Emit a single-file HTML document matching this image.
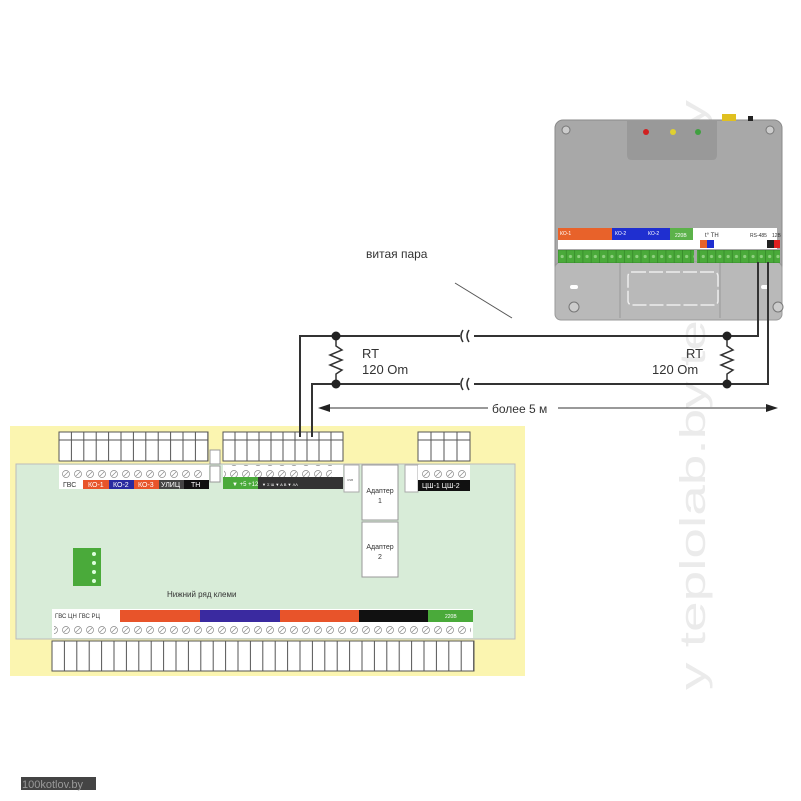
<!DOCTYPE html>
<html><head><meta charset="utf-8"><style>
html,body{margin:0;padding:0;background:#fff;}
svg{display:block;font-family:"Liberation Sans","Noto Sans CJK SC",sans-serif;}
</style></head><body>
<svg width="801" height="801" viewBox="0 0 801 801" xmlns="http://www.w3.org/2000/svg">
<defs>
<pattern id="cell" x="59" y="0" width="12.4" height="40" patternUnits="userSpaceOnUse"><rect x="0" y="0" width="12.4" height="40" fill="#fff" stroke="#555" stroke-width="1"/></pattern>
<pattern id="cellm" x="223" y="0" width="12" height="40" patternUnits="userSpaceOnUse"><rect x="0" y="0" width="12" height="40" fill="#fff" stroke="#555" stroke-width="1"/></pattern>
<pattern id="cellb" x="52" y="0" width="12.4" height="40" patternUnits="userSpaceOnUse"><rect x="0" y="0" width="12.4" height="40" fill="#fff" stroke="#555" stroke-width="1"/></pattern>
<pattern id="cellr" x="418" y="0" width="13" height="40" patternUnits="userSpaceOnUse"><rect x="0" y="0" width="13" height="40" fill="#fff" stroke="#555" stroke-width="1"/></pattern>
<pattern id="screw" x="0" y="0" width="12" height="12" patternUnits="userSpaceOnUse"><circle cx="6" cy="6" r="3.5" fill="#fff" stroke="#888" stroke-width="0.7"/><line x1="4" y1="8" x2="8" y2="4" stroke="#888" stroke-width="0.6"/></pattern>
<pattern id="gterm" x="558" y="250" width="8.3" height="13" patternUnits="userSpaceOnUse"><rect x="0" y="0" width="8.3" height="13" fill="#4aaa3a" stroke="#2f7f25" stroke-width="0.6"/><circle cx="4.15" cy="6.5" r="1.6" fill="#8fd07f"/></pattern>
</defs>

<!-- watermark -->
<text transform="translate(705,690) rotate(-90)" font-size="36" fill="#ebebeb" textLength="590" lengthAdjust="spacingAndGlyphs">y teplolab.by  teplolab.by</text>

<!-- device -->
<rect x="555" y="120" width="227" height="200" rx="8" fill="#a8a8a8" stroke="#8a8a8a"/>
<rect x="555" y="262" width="227" height="58" rx="6" fill="#b9b9b9" stroke="#999"/>
<line x1="620" y1="262" x2="620" y2="318" stroke="#999"/>
<line x1="720" y1="262" x2="720" y2="318" stroke="#999"/>
<rect x="628" y="272" width="90" height="33" rx="4" fill="none" stroke="#eee" stroke-width="1.5" stroke-dasharray="14 3"/>
<path d="M627 120 H717 V155 Q717 160 712 160 H632 Q627 160 627 155 Z" fill="#999"/>
<rect x="722" y="114" width="14" height="7" fill="#e0c020"/>
<rect x="748" y="116" width="5" height="5" fill="#222"/>
<circle cx="646" cy="132" r="3" fill="#d02020"/>
<circle cx="673" cy="132" r="3" fill="#e0d030"/>
<circle cx="698" cy="132" r="3" fill="#40a040"/>
<circle cx="566" cy="130" r="4" fill="#ccc" stroke="#777"/>
<circle cx="770" cy="130" r="4" fill="#ccc" stroke="#777"/>
<circle cx="574" cy="307" r="5" fill="#ccc" stroke="#777"/>
<circle cx="778" cy="307" r="5" fill="#ccc" stroke="#777"/>
<rect x="570" y="285" width="8" height="4" rx="2" fill="#fff"/>
<rect x="761" y="285" width="8" height="4" rx="2" fill="#fff"/>
<rect x="558" y="228" width="219" height="21" fill="#fff"/>
<rect x="558" y="228" width="32" height="12" fill="#e8622a"/>
<rect x="590" y="228" width="22" height="12" fill="#e8622a"/>
<rect x="612" y="228" width="33" height="12" fill="#1f2fd0"/>
<rect x="645" y="228" width="25" height="12" fill="#1f2fd0"/>
<rect x="670" y="228" width="23" height="12" fill="#5cb24a"/>
<text x="560" y="235" font-size="5" fill="#fff">КО-1</text>
<text x="615" y="235" font-size="5" fill="#fff">КО-2</text>
<text x="648" y="235" font-size="5" fill="#fff">КО-2</text>
<text x="675" y="237" font-size="5" fill="#fff">220В</text>
<text x="705" y="237" font-size="6" fill="#333">t° ТН</text>
<text x="750" y="237" font-size="5" fill="#333">RS-485</text>
<text x="772" y="237" font-size="5" fill="#333">12В</text>
<rect x="700" y="240" width="7" height="8" fill="#e8622a"/>
<rect x="707" y="240" width="7" height="8" fill="#1f2fd0"/>
<rect x="774" y="240" width="6" height="8" fill="#e02020"/>
<rect x="767" y="240" width="7" height="8" fill="#222"/>
<rect x="558" y="250" width="136" height="13" fill="url(#gterm)"/>
<rect x="697" y="250" width="83" height="13" fill="url(#gterm)"/>

<!-- yellow board -->
<rect x="10" y="426" width="515" height="250" fill="#fbf5b0"/>
<rect x="16" y="464" width="499" height="175" fill="#d8ecd8" stroke="#bbb"/>
<rect x="59" y="432" width="149" height="29" fill="url(#cell)" stroke="#555"/>
<rect x="223" y="432" width="120" height="29" fill="url(#cellm)" stroke="#555"/>
<rect x="418" y="432" width="52" height="29" fill="url(#cellr)" stroke="#555"/>
<rect x="52" y="641" width="422" height="30" fill="url(#cellb)" stroke="#555"/>
<rect x="210" y="450" width="10" height="14" fill="#fff" stroke="#999"/>
<rect x="210" y="466" width="10" height="16" fill="#fff" stroke="#999"/>

<!-- top labels left -->
<rect x="59" y="465" width="150" height="24" fill="#fff"/>
<rect x="60" y="466" width="144" height="12" fill="url(#screw)"/>
<rect x="83" y="480" width="26" height="9" fill="#e8542a"/>
<rect x="109" y="480" width="25" height="9" fill="#2a2aa0"/>
<rect x="134" y="480" width="25" height="9" fill="#e8542a"/>
<rect x="159" y="480" width="25" height="9" fill="#444"/>
<rect x="184" y="480" width="25" height="9" fill="#111"/>
<g font-size="7" fill="#fff"><text x="63" y="487" fill="#333">ГВС</text><text x="88" y="487">КО-1</text><text x="113" y="487">КО-2</text><text x="138" y="487">КО-3</text><text x="161" y="487">УЛИЦ</text><text x="191" y="487">ТН</text></g>
<!-- middle labels -->
<rect x="223" y="465" width="120" height="12" fill="#fff"/>
<rect x="224" y="465" width="108" height="12" fill="url(#screw)"/>
<rect x="223" y="477" width="35" height="12" fill="#4aaa3a"/>
<rect x="258" y="477" width="85" height="12" fill="#333"/>
<text x="232" y="486" font-size="6" fill="#fff">▼ +5 +12</text>
<text x="262" y="486" font-size="4" fill="#fff">▼ Ʃ Ɯ  ▼ A B  ▼ ɅɅ</text>
<rect x="344" y="465" width="15" height="27" fill="#fff" stroke="#aaa"/>
<text x="347" y="481" font-size="3" fill="#555">USB</text>
<rect x="362" y="465" width="36" height="55" fill="#fff" stroke="#999"/>
<rect x="362" y="522" width="36" height="55" fill="#fff" stroke="#999"/>
<text x="380" y="493" font-size="7" fill="#333" text-anchor="middle">Адаптер</text><text x="380" y="503" font-size="7" fill="#333" text-anchor="middle">1</text>
<text x="380" y="549" font-size="7" fill="#333" text-anchor="middle">Адаптер</text><text x="380" y="559" font-size="7" fill="#333" text-anchor="middle">2</text>
<rect x="405" y="465" width="13" height="27" fill="#fff" stroke="#aaa"/>
<rect x="418" y="465" width="52" height="15" fill="#fff"/>
<rect x="420" y="466" width="48" height="12" fill="url(#screw)"/>
<rect x="418" y="480" width="52" height="11" fill="#111"/>
<text x="422" y="488" font-size="7" fill="#fff">ЦШ-1  ЦШ-2</text>
<!-- green small block -->
<rect x="73" y="548" width="28" height="38" fill="#4aaa3a"/>
<g fill="#dfd"><circle cx="94" cy="554" r="2"/><circle cx="94" cy="563" r="2"/><circle cx="94" cy="572" r="2"/><circle cx="94" cy="581" r="2"/></g>
<text x="167" y="597" font-size="8" fill="#333">Нижний ряд клеми</text>
<!-- bottom labels -->
<rect x="52" y="609" width="421" height="29" fill="#fff"/>
<rect x="120" y="610" width="45" height="12" fill="#e8542a"/>
<rect x="165" y="610" width="35" height="12" fill="#e8542a"/>
<rect x="200" y="610" width="47" height="12" fill="#3a2aa0"/>
<rect x="247" y="610" width="33" height="12" fill="#3a2aa0"/>
<rect x="280" y="610" width="45" height="12" fill="#e8542a"/>
<rect x="325" y="610" width="34" height="12" fill="#e8542a"/>
<rect x="359" y="610" width="69" height="12" fill="#111"/>
<rect x="428" y="610" width="45" height="12" fill="#4aaa3a"/>
<text x="55" y="618" font-size="6" fill="#333">ГВС ЦН  ГВС РЦ</text>
<text x="445" y="618" font-size="5" fill="#fff">220В</text>
<rect x="54" y="624" width="417" height="12" fill="url(#screw)"/>

<!-- wiring -->
<g stroke="#333" stroke-width="2" fill="none">
<path d="M300 437 V336 H758 V262"/>
<path d="M312 437 V384 H768 V262"/>
</g>
<g fill="#fff"><rect x="460" y="328" width="14" height="16"/><rect x="460" y="376" width="14" height="16"/></g>
<g stroke="#333" stroke-width="1.5" fill="none">
<path d="M463 330 q-4 6 0 12"/><path d="M469 330 q-4 6 0 12"/>
<path d="M463 378 q-4 6 0 12"/><path d="M469 378 q-4 6 0 12"/>
<path d="M336 336 V346 l6 4 -12 5 12 5 -12 5 12 5 -6 4 V384"/>
<path d="M727 336 V346 l6 4 -12 5 12 5 -12 5 12 5 -6 4 V384"/>
</g>
<g fill="#222"><circle cx="336" cy="336" r="4.5"/><circle cx="336" cy="384" r="4.5"/><circle cx="727" cy="336" r="4.5"/><circle cx="727" cy="384" r="4.5"/></g>
<text x="362" y="358" font-size="13" fill="#333">RT</text><text x="362" y="374" font-size="13" fill="#333">120 Om</text>
<text x="686" y="358" font-size="13" fill="#333">RT</text><text x="652" y="374" font-size="13" fill="#333">120 Om</text>
<line x1="325" y1="408" x2="770" y2="408" stroke="#333" stroke-width="1"/>
<path d="M318 408 l12 -4 v8 z M778 408 l-12 -4 v8 z" fill="#222"/>
<rect x="488" y="400" width="70" height="16" fill="#fff"/>
<text x="492" y="413" font-size="12" fill="#333">более 5 м</text>
<text x="366" y="258" font-size="12" fill="#333">витая пара</text>
<line x1="455" y1="283" x2="512" y2="318" stroke="#555" stroke-width="1"/>

<rect x="21" y="777" width="75" height="13" fill="#444"/>
<text x="22" y="788" font-size="11" fill="#999">100kotlov.by</text>
</svg>
</body></html>
